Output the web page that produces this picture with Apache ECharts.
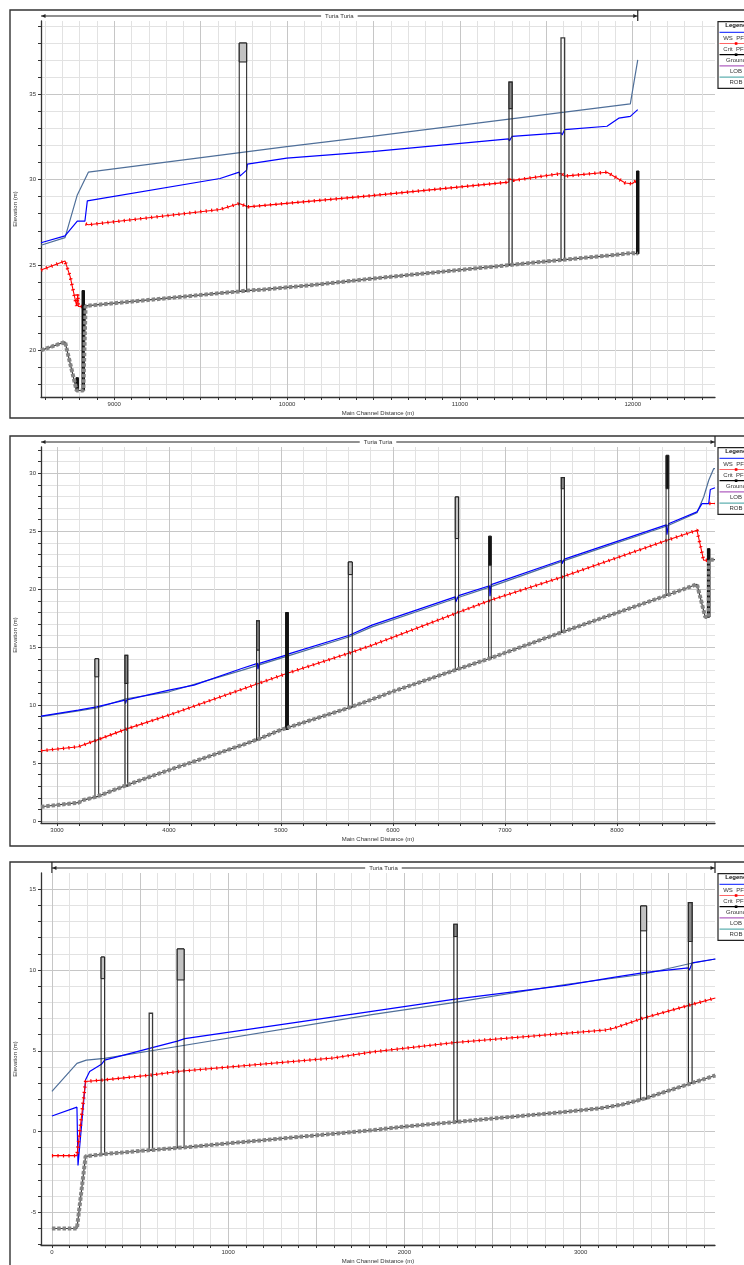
<!DOCTYPE html>
<html><head><meta charset="utf-8">
<script src="https://cdn.jsdelivr.net/npm/echarts@6/dist/echarts.min.js"></script>
<style>html,body{margin:0;padding:0;background:#fff}#c{width:744px;height:1265px}</style>
</head><body><div id="c"></div>
<script>
// ================= DATA =================
const X_NAME = 'Main Channel Distance (m)';
const Y_NAME = 'Elevation (m)';
const REACH_LABEL = 'Turia Turia';
const LEGEND_TITLE = 'Legend';
const LEGEND_ITEMS = ['WS  PF 1', 'Crit  PF 1', 'Ground', 'LOB', 'ROB'];

// ---- Panel 1 ----
const p1XRange = [8576, 12476];
const p1YRange = [17.27, 39.28];
const p1XLabels = [9000, 10000, 11000, 12000];
const p1YLabels = [20, 25, 30, 35];
const p1Reach = [8576, 12029];
const p1Ground = [[8576,20.0],[8715,20.5],[8782,17.65],[8821,17.65],[8834,22.6],[9612,23.35],[9723,23.45],[9766,23.5],[9853,23.55],[10171,23.85],[10491,24.2],[11292,25.0],[11591,25.3],[11861,25.55],[11996,25.7],[12029,25.65]];
const p1WS = [[8576,26.3],[8715,26.7],[8786,27.56],[8830,27.56],[8844,28.75],[9612,30.06],[9723,30.43],[9727,30.2],[9766,30.55],[9770,30.9],[9998,31.25],[10491,31.63],[11282,32.38],[11286,32.26],[11302,32.53],[11585,32.73],[11591,32.6],[11606,32.92],[11851,33.12],[11919,33.59],[11986,33.7],[12029,34.09]];
const p1Bank = [[8576,26.15],[8715,26.6],[8786,29.1],[8850,30.43],[9998,31.93],[10491,32.53],[11986,34.43],[12029,37.0]];
const p1Crit = [[8576,24.7],[8715,25.23],[8744,24.35],[8782,22.6],[8789,23.3],[8792,22.57],[8830,22.57],[8832,'-'],[8834,27.4],[8850,27.35],[9612,28.25],[9723,28.6],[9774,28.4],[10491,29.06],[11282,29.85],[11286,30.05],[11311,29.95],[11585,30.35],[11606,30.2],[11851,30.43],[11957,29.8],[11996,29.75],[12029,30.0]];
// structures: [station start, station end, bottom, deck low chord, top]
const p1Structs = [[9723,9766,23.45,36.88,37.99],[11284,11302,25.0,34.15,35.7],[11585,11606,25.3,38.29,38.29],[12027,12031,25.65,30.5,30.5],[8818,8823,17.65,23.5,23.5],[8784,8787,17.65,18.4,18.4]];
const p1StructKinds = ['bridge','bridgeDark','open','wall','wall','wall'];

// ---- Panel 2 ----
const p2XRange = [2857, 8875];
const p2YRange = [-0.17, 32.27];
const p2XLabels = [3000, 4000, 5000, 6000, 7000, 8000];
const p2YLabels = [0, 5, 10, 15, 20, 25, 30];
const p2Reach = [2857, 8875];
const p2Ground = [[2857,1.23],[3190,1.58],[3235,1.81],[3354,2.1],[3622,3.1],[4000,4.4],[4650,6.55],[4798,7.07],[4991,7.84],[5616,9.8],[5812,10.49],[5991,11.15],[6571,13.08],[6854,14.0],[6997,14.5],[7509,16.3],[8446,19.48],[8714,20.43],[8788,17.6],[8819,17.6],[8822,22.55],[8875,22.55]];
const p2WS = [[2857,9.05],[3190,9.57],[3354,9.85],[3607,10.43],[3611,10.14],[3622,10.45],[4000,11.29],[4223,11.72],[4649,13.16],[4790,13.6],[4794,13.1],[4806,13.6],[5045,14.31],[5050,14.0],[5062,14.4],[5610,16.03],[5812,16.9],[6556,19.34],[6560,18.9],[6586,19.45],[6862,20.3],[6866,19.4],[6877,20.4],[7505,22.5],[7510,22.2],[7530,22.6],[8440,25.55],[8446,24.7],[8460,25.65],[8714,26.67],[8759,27.38],[8819,27.38],[8833,28.6],[8875,28.75]];
const p2Bank = [[2857,9.0],[3190,9.5],[3354,9.75],[3616,10.55],[4000,11.15],[4649,13.0],[5050,14.2],[5610,15.9],[5812,16.75],[6556,19.2],[6869,20.2],[7509,22.4],[8446,25.45],[8714,26.6],[8774,27.96],[8819,29.4],[8863,30.4],[8875,30.4]];
const p2Crit = [[2857,6.06],[3190,6.41],[3354,6.98],[3616,7.93],[4000,9.14],[4798,11.87],[5050,12.73],[5616,14.51],[5812,15.17],[6556,17.9],[6869,19.05],[7509,21.06],[8446,24.22],[8714,25.09],[8773,22.5],[8819,22.5],[8821,'-'],[8824,27.4],[8875,27.4]];
const p2Structs = [[3339,3372,2.1,12.44,14.0],[3607,3631,3.0,11.87,14.3],[4782,4806,7.0,14.74,17.27],[5045,5062,7.9,7.9,17.99],[5601,5636,9.8,21.26,22.35],[6556,6586,13.1,24.37,27.96],[6854,6877,14.0,22.07,24.57],[7503,7530,16.3,28.67,29.63],[8438,8462,19.5,28.67,31.55],[8817,8821,17.6,23.5,23.5]];
const p2StructKinds = ['bridge','bridgeDark','bridgeDark','wall','bridge','bridge','wallTop','bridgeDark','wallTop','wall'];

// ---- Panel 3 ----
const p3XRange = [-62, 3763];
const p3YRange = [-7.02, 16.0];
const p3XLabels = [0, 1000, 2000, 3000];
const p3YLabels = [-5, 0, 5, 10, 15];
const p3Reach = [0, 3763];
const p3Ground = [[0,-6.0],[142,-6.0],[191,-1.53],[299,-1.39],[564,-1.14],[750,-0.98],[1815,0.08],[1999,0.31],[2288,0.59],[2894,1.2],[3103,1.43],[3235,1.67],[3345,1.98],[3604,2.9],[3642,3.04],[3765,3.47]];
const p3WS = [[0,0.96],[142,1.51],[148,-2.1],[191,3.2],[214,3.71],[281,4.16],[299,4.42],[564,5.18],[712,5.6],[716,5.5],[754,5.75],[1815,7.44],[2288,8.2],[2913,9.05],[3178,9.52],[3359,9.83],[3612,10.13],[3618,9.99],[3633,10.44],[3765,10.68]];
const p3Bank = [[0,2.49],[142,4.22],[195,4.42],[299,4.53],[564,5.0],[1815,7.24],[2288,7.99],[2913,9.1],[3349,9.72],[3623,10.4],[3765,10.68]];
const p3Crit = [[0,-1.49],[142,-1.49],[191,3.1],[299,3.2],[564,3.5],[725,3.73],[1596,4.55],[1815,4.92],[2288,5.51],[3140,6.28],[3188,6.39],[3349,7.0],[3614,7.81],[3765,8.27]];
const p3Structs = [[279,299,-1.4,9.46,10.8],[552,571,-1.15,7.32,7.32],[711,750,-0.98,9.38,11.3],[2281,2300,0.6,12.07,12.83],[3341,3375,2.0,12.42,13.96],[3612,3633,3.0,11.76,14.17]];
const p3StructKinds = ['bridge','open','bridge','bridgeDark','bridge','bridgeDark'];

// ================= BUILD =================
const FONT = "'Liberation Sans', Arial, sans-serif";
function steps(a, b, s) { const r = []; for (let v = a; v <= b + 1e-9; v += s) r.push(Math.round(v * 1000) / 1000); return r; }
const plain = v => String(v);

const panels = [
  { top: 21, borderTop: 10, borderH: 408, xr: p1XRange, yr: p1YRange, xMinor: steps(8600, 12400, 100), xMajor: steps(9000, 12000, 500), xLab: p1XLabels,
    yMinor: steps(18, 39, 1), yLab: p1YLabels, ground: p1Ground, ws: p1WS, bank: p1Bank, crit: p1Crit, structs: p1Structs, kinds: p1StructKinds, reach: p1Reach, leftTick: false },
  { top: 447, borderTop: 436, borderH: 410, xr: p2XRange, yr: p2YRange, xMinor: steps(3000, 8800, 200), xMajor: steps(3000, 8000, 1000), xLab: p2XLabels,
    yMinor: steps(0, 32, 1), yLab: p2YLabels, ground: p2Ground, ws: p2WS, bank: p2Bank, crit: p2Crit, structs: p2Structs, kinds: p2StructKinds, reach: p2Reach, leftTick: false },
  { top: 873, borderTop: 862, borderH: 420, xr: p3XRange, yr: p3YRange, xMinor: steps(0, 3700, 100), xMajor: steps(0, 3500, 500), xLab: p3XLabels,
    yMinor: steps(-7, 15, 1), yLab: p3YLabels, ground: p3Ground, ws: p3WS, bank: p3Bank, crit: p3Crit, structs: p3Structs, kinds: p3StructKinds, reach: p3Reach, leftTick: true }
];

const STRUCT_STYLE = {
  bridge:     { body: 'rgba(0,0,0,0)', deck: '#c2c2c2', stroke: '#1a1a1a', lw: 1 },
  bridgeDark: { body: 'rgba(0,0,0,0)', deck: '#8a8a8a', stroke: '#2a2a2a', lw: 1.2 },
  open:       { body: 'rgba(0,0,0,0)', deck: 'rgba(0,0,0,0)', stroke: '#3a3a3a', lw: 1.3 },
  wall:       { body: '#111', deck: '#111', stroke: '#111', lw: 1 },
  wallTop:    { body: 'rgba(0,0,0,0)', deck: '#111', stroke: '#222', lw: 1 }
};

function structRenderer(kinds) {
  return function (params, api) {
    const x1 = api.value(0), x2 = api.value(1), b = api.value(2), dl = api.value(3), t = api.value(4);
    const st = STRUCT_STYLE[kinds[params.dataIndex]];
    const pTL = api.coord([x1, t]), pBR = api.coord([x2, b]), pD = api.coord([x1, dl]);
    let left = pTL[0], w = pBR[0] - pTL[0];
    if (w < 2.5) { const c = left + w / 2; left = c - 1.25; w = 2.5; }
    const top = pTL[1], bottom = pBR[1], deckY = pD[1];
    const ch = [{ type: 'rect', shape: { x: left, y: top, width: w, height: bottom - top }, style: { fill: st.body, stroke: st.stroke, lineWidth: st.lw } }];
    if (deckY - top > 0.5) ch.push({ type: 'rect', shape: { x: left, y: top, width: w, height: deckY - top }, style: { fill: st.deck, stroke: st.stroke, lineWidth: st.lw } });
    return { type: 'group', children: ch };
  };
}

const grids = [], xAxes = [], yAxes = [], series = [];
panels.forEach((p, g) => {
  grids.push({ left: 41, top: p.top, width: 674, height: 376 });
  xAxes.push({ type: 'value', gridIndex: g, min: p.xr[0], max: p.xr[1], position: 'bottom',
    axisLine: { show: true, onZero: false, lineStyle: { color: '#333', width: 1.3 } },
    axisTick: { show: true, customValues: p.xMinor, length: 3, lineStyle: { color: '#333' } },
    axisLabel: { show: false }, splitLine: { show: true, lineStyle: { color: '#e2e2e2', width: 1 } } });
  xAxes.push({ type: 'value', gridIndex: g, min: p.xr[0], max: p.xr[1], position: 'bottom',
    axisLine: { show: false, onZero: false }, axisTick: { show: false, customValues: p.xMajor },
    axisLabel: { show: true, customValues: p.xLab, formatter: plain, fontSize: 6, color: '#333', margin: 4, fontFamily: FONT },
    splitLine: { show: true, lineStyle: { color: '#c6c6c6', width: 1 } },
    name: X_NAME, nameLocation: 'middle', nameGap: 13, nameTextStyle: { fontSize: 6, color: '#333', fontFamily: FONT } });
  yAxes.push({ type: 'value', gridIndex: g, min: p.yr[0], max: p.yr[1], position: 'left',
    axisLine: { show: true, onZero: false, lineStyle: { color: '#333', width: 1.3 } },
    axisTick: { show: true, customValues: p.yMinor, length: 3, lineStyle: { color: '#333' } },
    axisLabel: { show: false }, splitLine: { show: true, lineStyle: { color: '#e2e2e2', width: 1 } } });
  yAxes.push({ type: 'value', gridIndex: g, min: p.yr[0], max: p.yr[1], position: 'left',
    axisLine: { show: false, onZero: false }, axisTick: { show: false, customValues: p.yLab },
    axisLabel: { show: true, customValues: p.yLab, formatter: plain, fontSize: 6, color: '#333', margin: 5, fontFamily: FONT },
    splitLine: { show: true, lineStyle: { color: '#c6c6c6', width: 1 } },
    name: Y_NAME, nameLocation: 'middle', nameGap: 22, nameTextStyle: { fontSize: 6, color: '#333', fontFamily: FONT } });
  const xi = 2 * g, yi = 2 * g;
  const base = { type: 'line', xAxisIndex: xi, yAxisIndex: yi, showSymbol: false, symbol: 'none', silent: true, animation: false, connectNulls: false };
  series.push(Object.assign({}, base, { name: 'Bank', data: p.bank, lineStyle: { color: '#4f6f99', width: 1.2 }, z: 3 }));
  series.push(Object.assign({}, base, { name: 'WS PF 1', data: p.ws, lineStyle: { color: '#0000ff', width: 1.2 }, z: 4 }));
  series.push(Object.assign({}, base, { name: 'Crit PF 1', data: p.crit, lineStyle: { color: '#ff0000', width: 1.1 }, z: 5 }));
  series.push(Object.assign({}, base, { name: 'Crit PF 1 marks', data: p.crit, lineStyle: { color: '#ff0000', width: 3.5, type: [1.2, 4.3], cap: 'butt' }, z: 5 }));
  series.push({ type: 'custom', name: 'Structures', xAxisIndex: xi, yAxisIndex: yi, data: p.structs, renderItem: structRenderer(p.kinds), silent: true, animation: false, z: 6, encode: { x: [0, 1], y: [2, 3, 4] } });
  series.push(Object.assign({}, base, { name: 'Ground', data: p.ground, lineStyle: { color: '#3a3a3a', width: 1.2 }, z: 7 }));
  series.push(Object.assign({}, base, { name: 'Ground marks', data: p.ground, lineStyle: { color: '#858585', width: 4, type: [3.5, 1.8], cap: 'butt' }, z: 8 }));
});

const chart = echarts.init(document.getElementById('c'), null, { renderer: 'canvas' });
chart.setOption({ animation: false, backgroundColor: '#fff', grid: grids, xAxis: xAxes, yAxis: yAxes, series: series });

// ---- annotations: borders, reach line, legend ----
const gfx = [];
const LEG_COLORS = ['#3344ff', '#ff6666', '#000000', '#b060c0', '#60b0b0'];
panels.forEach((p, g) => {
  gfx.push({ type: 'rect', shape: { x: 10, y: p.borderTop, width: 800, height: p.borderH }, style: { fill: 'rgba(0,0,0,0)', stroke: '#333', lineWidth: 1.4 }, z: 50, silent: true });
  const xa = chart.convertToPixel({ xAxisIndex: 2 * g }, p.reach[0]);
  const xb = chart.convertToPixel({ xAxisIndex: 2 * g }, p.reach[1]);
  const ry = p.borderTop + 6;
  gfx.push({ type: 'line', shape: { x1: xa, y1: ry, x2: xb, y2: ry }, style: { stroke: '#222', lineWidth: 1.1 }, z: 50 });
  gfx.push({ type: 'polygon', shape: { points: [[xa + 0.5, ry], [xa + 4.5, ry - 2], [xa + 4.5, ry + 2]] }, style: { fill: '#222' }, z: 50 });
  gfx.push({ type: 'polygon', shape: { points: [[xb - 0.5, ry], [xb - 4.5, ry - 2], [xb - 4.5, ry + 2]] }, style: { fill: '#222' }, z: 50 });
  gfx.push({ type: 'line', shape: { x1: xb, y1: p.borderTop, x2: xb, y2: p.top }, style: { stroke: '#222', lineWidth: 1.2 }, z: 50 });
  if (p.leftTick) gfx.push({ type: 'line', shape: { x1: xa, y1: p.borderTop, x2: xa, y2: p.top }, style: { stroke: '#222', lineWidth: 1.2 }, z: 50 });
  gfx.push({ type: 'text', style: { x: (xa + xb) / 2, y: ry, text: REACH_LABEL, font: '6px ' + FONT, fill: '#333', align: 'center', verticalAlign: 'middle', backgroundColor: '#fff', padding: [0, 4] }, z: 51 });
  // legend box
  const lt = p.top + 0.7, lx = 718;
  gfx.push({ type: 'rect', shape: { x: lx, y: lt, width: 60, height: 66.6 }, style: { fill: '#fff', stroke: '#222', lineWidth: 1.2 }, z: 60 });
  gfx.push({ type: 'text', style: { x: 736, y: lt + 4, text: LEGEND_TITLE, font: 'bold 6px ' + FONT, fill: '#111', align: 'center', verticalAlign: 'middle' }, z: 61 });
  LEGEND_ITEMS.forEach((t, i) => {
    const ly = lt + 10.6 + i * 11.2;
    gfx.push({ type: 'line', shape: { x1: lx + 1.5, y1: ly, x2: lx + 60, y2: ly }, style: { stroke: LEG_COLORS[i], lineWidth: 1.2 }, z: 61 });
    if (i === 1 || i === 2) gfx.push({ type: 'rect', shape: { x: 734.8, y: ly - 1.3, width: 2.6, height: 2.6 }, style: { fill: i === 1 ? '#ff0000' : '#000' }, z: 62 });
    gfx.push({ type: 'text', style: { x: 736, y: ly + 5.6, text: t, font: '6px ' + FONT, fill: '#333', align: 'center', verticalAlign: 'middle' }, z: 61 });
  });
});
chart.setOption({ graphic: { elements: gfx } });
</script></body></html>
